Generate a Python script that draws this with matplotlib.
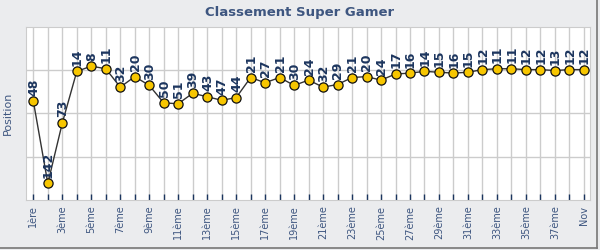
import matplotlib
matplotlib.use("Agg")
import matplotlib.pyplot as plt
from matplotlib.lines import Line2D

# ranking at each round (lower = better)
rounds = ["1ère", "2ème", "3ème", "4ème", "5ème", "6ème", "7ème", "8ème", "9ème", "10ème",
          "11ème", "12ème", "13ème", "14ème", "15ème", "16ème", "17ème", "18ème", "19ème", "20ème",
          "21ème", "22ème", "23ème", "24ème", "25ème", "26ème", "27ème", "28ème", "29ème", "30ème",
          "31ème", "32ème", "33ème", "34ème", "35ème", "36ème", "37ème", "38ème", "Nov"]
positions = [48, 142, 73, 14, 8, 11, 32, 20, 30, 50,
             51, 39, 43, 47, 44, 21, 27, 21, 30, 24,
             32, 29, 21, 20, 24, 17, 16, 14, 15, 16,
             15, 12, 11, 11, 12, 12, 13, 12, 12]

x = list(range(1, len(positions) + 1))

title_col = "#3e5680"
label_col = "#1c355e"

fig = plt.figure(figsize=(6, 2.5), dpi=100)
fig.patch.set_facecolor("#ebecee")
ax = fig.add_axes([0.043, 0.2, 0.94, 0.693])
ax.set_facecolor("white")

ax.plot(x, positions, color="#333333", lw=1, zorder=3)
ax.plot(x, positions, "o", ms=6.6, mfc="#f7c600", mec="#111111", mew=0.9, zorder=4)

for xi, v in zip(x, positions):
    ax.annotate(str(v), (xi, v), xytext=(0.3, 4), textcoords="offset points",
                rotation=90, ha="center", va="bottom", fontsize=9, fontweight="bold",
                color=label_col, zorder=5)

ax.set_xlim(0.48, len(x) + 0.41)
ymin, ymax = -37, 161
ax.set_ylim(ymax, ymin)
step = (ymax - ymin) / 4
ax.set_yticks([ymin + step, ymin + 2 * step, ymin + 3 * step])
ax.set_yticklabels([])
ax.tick_params(axis="y", length=0)

ax.set_xticks(x)
ax.set_xticklabels([r if i % 2 == 0 else "" for i, r in enumerate(rounds)],
                   rotation=90, fontsize=7, color=title_col)
ax.tick_params(axis="x", direction="in", length=4.5, width=1, color=label_col, pad=4)

ax.grid(True, color="#cccccc", lw=1)
ax.set_axisbelow(True)
for s in ax.spines.values():
    s.set_color("#cccccc")

ax.set_ylabel("Position", color=title_col, fontsize=8, labelpad=6)
fig.text(0.5, 0.95, "Classement Super Gamer", ha="center", va="center",
         fontsize=9.5, fontweight="bold", color=title_col)

# shadow border on right and bottom
fig.add_artist(Line2D([0.995, 0.995], [0.008, 1], color="#777777", lw=1.2))
fig.add_artist(Line2D([0, 0.995], [0.008, 0.008], color="#777777", lw=1.2))

fig.savefig("out.png", dpi=100, facecolor=fig.get_facecolor())
